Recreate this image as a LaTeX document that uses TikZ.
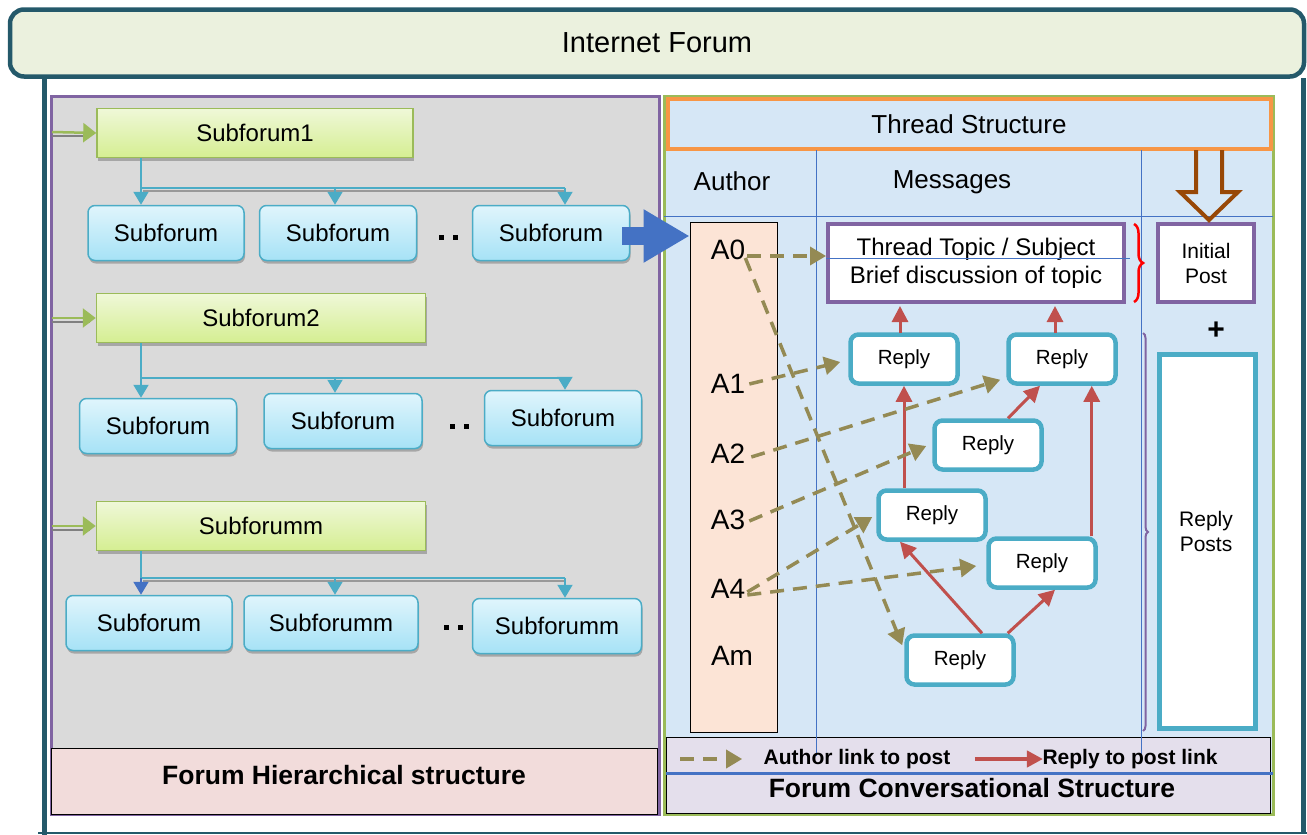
\documentclass[tikz,border=0pt]{standalone}
\usepackage{fontspec}
\setmainfont{Liberation Sans}
\usetikzlibrary{arrows.meta,calc,shadows,decorations.pathreplacing}

\definecolor{frameteal}{HTML}{24596A}
\definecolor{bannerfill}{HTML}{EBF1DE}
\definecolor{panelpurple}{HTML}{8064A2}
\definecolor{leftbg}{HTML}{DADADA}
\definecolor{pinkfill}{HTML}{F2DCDB}
\definecolor{catgreen}{HTML}{9BBB59}
\definecolor{cattop}{HTML}{EFF8D8}
\definecolor{catbot}{HTML}{D5EE92}
\definecolor{subteal}{HTML}{4BACC6}
\definecolor{subtop}{HTML}{E0F5FC}
\definecolor{subbot}{HTML}{A6E2F6}
\definecolor{bigblue}{HTML}{4472C4}
\definecolor{rightbg}{HTML}{D6E7F6}
\definecolor{threadorange}{HTML}{F79646}
\definecolor{peach}{HTML}{FCE4D6}
\definecolor{arrowbrown}{HTML}{984807}
\definecolor{linkred}{HTML}{C0504D}
\definecolor{linkolive}{HTML}{948A54}
\definecolor{lavender}{HTML}{E4DFEC}

\tikzset{
  catbox/.style={draw=catgreen, line width=1.5pt, top color=cattop, bottom color=catbot,
    minimum height=49pt, font=\fontsize{24}{28}\selectfont,
    drop shadow={shadow xshift=1pt, shadow yshift=-3pt, fill=gray!70, opacity=1}},
  subbox/.style={draw=subteal, line width=1.5pt, rounded corners=7pt, top color=subtop,
    bottom color=subbot, minimum height=55pt, font=\fontsize{24}{28}\selectfont,
    drop shadow={shadow xshift=1pt, shadow yshift=-3pt, fill=gray!70, opacity=1}},
  feedarrow/.style={catgreen, line width=2.5pt, -{Triangle[length=13pt,width=19pt]}},
  tree/.style={subteal, line width=2pt},
  treearrow/.style={subteal, line width=2pt, -{Triangle[length=13pt,width=15pt]}},
  gridline/.style={bigblue, line width=0.9pt},
  lbl/.style={inner sep=0pt, font=\fontsize{26}{30}\selectfont},
  alabel/.style={inner sep=0pt, font=\fontsize{28}{30}\selectfont},
  postbox/.style={draw=panelpurple, line width=4pt, fill=white, align=center},
  replybox/.style={draw=subteal, line width=4.5pt, rounded corners=8pt, fill=white,
    minimum width=107pt, minimum height=49pt, font=\fontsize{20.5}{24}\selectfont},
  replylink/.style={linkred, line width=3pt, -{Triangle[length=16pt,width=16pt]}},
  authlink/.style={linkolive, line width=3.5pt, dash pattern=on 14pt off 9pt,
    -{Triangle[length=16pt,width=18pt]}},
  boldcap/.style={font=\bfseries\fontsize{26.5}{30}\selectfont},
  legtext/.style={font=\bfseries\fontsize{21}{24}\selectfont},
}

\begin{document}
\begin{tikzpicture}[x=1pt,y=-1pt]
\useasboundingbox (0,0) rectangle (1307,835);

% outer frame
\node[draw=frameteal, line width=4.5pt, fill=bannerfill, rounded corners=14pt,
  minimum width=1294pt, minimum height=67pt, font=\fontsize{29}{32}\selectfont] (forum) at (657,43) {Internet Forum};
\draw[frameteal, line width=5pt] (44,78) -- (44,835);
\draw[frameteal, line width=5pt] (1303,78) -- (1303,833);
\draw[frameteal, line width=2pt] (38,833) -- (1307,833);

% hierarchical side
\draw[panelpurple, line width=3pt, fill=leftbg] (51,96) rectangle (659,814);
\draw[black, line width=1pt, fill=pinkfill] (51,748) rectangle (657,814);
\node[boldcap] (hier) at (344,775) {Forum Hierarchical structure};

\node[catbox, minimum width=316pt] (sf1) at (255,133) {Subforum1};
\node[catbox, minimum width=329pt] (sf2) at (261,318) {Subforum2};
\node[catbox, minimum width=329pt] (sfm) at (261,526) {Subforumm};

\node[subbox, minimum width=156pt] (s11) at (166,233) {Subforum};
\node[subbox, minimum width=157pt] (s12) at (338,233) {Subforum};
\node[subbox, minimum width=157pt] (s13) at (551,233) {Subforum};
\node[subbox, minimum width=157pt] (s21) at (158,426) {Subforum};
\node[subbox, minimum width=158pt] (s22) at (343,421) {Subforum};
\node[subbox, minimum width=157pt] (s23) at (563,418) {Subforum};
\node[subbox, minimum width=166pt] (s31) at (149,623) {Subforum};
\node[subbox, minimum width=174pt] (s32) at (331,623) {Subforumm};
\node[subbox, minimum width=169pt] (s33) at (557,626) {Subforumm};

\node (dots1) at (448,237) {\rule{5pt}{5pt}\hspace{9pt}\rule{5pt}{5pt}};
\node (dots2) at (459,426) {\rule{5pt}{5pt}\hspace{9pt}\rule{5pt}{5pt}};
\node (dots3) at (453,627) {\rule{5pt}{5pt}\hspace{9pt}\rule{5pt}{5pt}};

\draw[gray, line width=2pt] (52,136) -- (90,136);
\draw[feedarrow] (52,132) -- (sf1.west);
\draw[gray, line width=2pt] (52,322) -- (90,322);
\draw[feedarrow] (52,318) -- (sf2.west);
\draw[gray, line width=2pt] (52,530) -- (90,530);
\draw[feedarrow] (52,526) -- (sfm.west);

\coordinate (t1) at (141,188);
\coordinate (t2) at (141,378);
\coordinate (t3) at (141,578);
\draw[gray!80, line width=1.5pt] ($(t1)+(2,3)$) -- ($(t1)+(424,3)$);
\draw[tree] (t1 |- sf1.south) -- (t1) -- ($(t1)+(424,0)$);
\draw[treearrow] (t1) -- (t1 |- s11.north);
\draw[treearrow] ($(t1)+(194,0)$) -- ($(t1 |- s12.north)+(194,0)$);
\draw[treearrow] ($(t1)+(424,0)$) -- ($(t1 |- s13.north)+(424,0)$);
\draw[tree] (t2 |- sf2.south) -- (t2) -- ($(t2)+(424,0)$);
\draw[treearrow] (t2) -- (t2 |- s21.north);
\draw[treearrow] ($(t2)+(194,0)$) -- ($(t2 |- s22.north)+(194,0)$);
\draw[treearrow] ($(t2)+(424,0)$) -- ($(t2 |- s23.north)+(424,0)$);
\draw[gray!80, line width=1.5pt] ($(t3)+(2,3)$) -- ($(t3)+(424,3)$);
\draw[tree] (t3 |- sfm.south) -- (t3) -- ($(t3)+(424,0)$);
\draw[treearrow, bigblue] (t3) -- (t3 |- s31.north);
\draw[treearrow] ($(t3)+(194,0)$) -- ($(t3 |- s32.north)+(194,0)$);
\draw[treearrow] ($(t3)+(424,0)$) -- ($(t3 |- s33.north)+(424,0)$);

% conversational side
\draw[catgreen, line width=3pt, fill=rightbg] (664,96) rectangle (1273,814);
\node[draw=threadorange, line width=4pt, minimum width=603pt, minimum height=50pt,
  font=\fontsize{26}{30}\selectfont] (thread) at (969,124) {Thread Structure};
\draw[gridline] (816,150) -- (816,756);
\draw[gridline] (1141,150) -- (1141,756);
\draw[gridline] (664,216) -- (1273,216);
\node[lbl] (author) at (732,181) {Author};
\node[lbl] (messages) at (952,182) {Messages};

\node[draw=black, line width=0.8pt, fill=peach, minimum width=87pt, minimum height=510pt] (authors) at (733.5,477) {};
\node[alabel] (a0) at (728,250) {A0};
\node[alabel] (a1) at (728,384) {A1};
\node[alabel] (a2) at (728,454) {A2};
\node[alabel] (a3) at (728,520) {A3};
\node[alabel] (a4) at (728,589) {A4};
\node[alabel] (am) at (732,656) {Am};

\draw[bigblue, line width=18pt, -{Triangle[length=46pt,width=50pt]}] ($(s13.east)+(-8,3)$) -- ($(authors.west |- s13.east)+(0,3)$);

\node[postbox, minimum width=296pt, minimum height=78pt, font=\fontsize{24}{28}\selectfont] (topic) at (976,263)
  {Thread Topic / Subject\\Brief discussion of topic};
\draw[gridline] ($(topic.west)+(0,-5)$) -- ($(topic.east)+(4,-5)$);
\draw[red, line width=2.5pt, decorate, decoration={brace, amplitude=9pt}] (1134,224) -- (1134,302);
\node[postbox, minimum width=96pt, minimum height=78pt, font=\fontsize{21}{25}\selectfont] (initial) at (1206,263) {Initial\\Post};
\draw[arrowbrown, line width=4pt, line join=miter] (1196,150) -- (1196,192) -- (1180,192) -- (1209,220)
  -- (1238,192) -- (1222,192) -- (1222,150);
\node[font=\bfseries\fontsize{30}{30}\selectfont] (plus) at (1216,331) {+};
\draw[panelpurple, line width=2pt, decorate, decoration={brace, amplitude=5pt}] (1143,333) -- (1143,731);
\node[draw=subteal, line width=5pt, fill=white, minimum width=96pt, minimum height=374pt] (replies) at (1207.5,541) {};
\node[align=center, font=\fontsize{21}{25}\selectfont] (replytxt) at (1206,531) {Reply\\Posts};

\node[replybox] (r1) at (904,359) {Reply};
\node[replybox] (r2) at (1062,359) {Reply};
\node[replybox] (r3) at (988,445) {Reply};
\node[replybox] (r4) at (932,515) {Reply};
\node[replybox] (r5) at (1042,563) {Reply};
\node[replybox] (r6) at (960,660) {Reply};

% reply links
\draw[replylink] (r1.south |- r4.north) -- (r1.south);
\draw[replylink] ($(topic.south west)+(74,29)$) -- ($(topic.south west)+(74,2)$);
\draw[replylink] ($(topic.south west)+(229,29)$) -- ($(topic.south west)+(229,2)$);
\draw[replylink] ($(r3.north)+(20,0)$) -- ($(r2.south)+(-22,0)$);
\coordinate (r5up) at ($(r5.north east)+(-6,0)$);
\draw[replylink] (r5up) -- (r5up |- r2.south);
\draw[replylink] ($(r6.north)+(22,0)$) -- ($(r4.south)+(-32,0)$);
\draw[replylink] ($(r6.north east)+(-8,0)$) -- ($(r5.south)+(13,0)$);

% author links
\draw[authlink] ($(a0.east)+(2,6)$) -- ($(a0.east -| topic.west)+(0,6)$);
\draw[authlink] ($(a0.east)+(0,8)$) -- ($(r6.north west)+(-2,12)$);
\draw[authlink] ($(a1.east)+(4,0)$) -- ($(r1.west)+(-8,3)$);
\draw[authlink] ($(a2.east)+(6,3)$) -- ($(r2.south west)+(-6,-6)$);
\draw[authlink] ($(a3.east)+(4,1)$) -- ($(r3.west)+(-6,1)$);
\draw[authlink] ($(a4.east)+(2,3)$) -- ($(r4.west)+(-4,2)$);
\draw[authlink] ($(a4.east)+(2,6)$) -- ($(r5.west)+(-10,3)$);

% legend
\draw[black, line width=1pt, fill=lavender] (666,737) rectangle (1270,813);
\draw[gridline] (816,737) -- (816,756);
\draw[gridline] (1141,737) -- (1141,756);
\draw[bigblue, line width=3pt] (666,773) -- (1273,773);
\node[legtext] (legauthor) at (857,759) {Author link to post};
\node[legtext] (legreply) at (1130,759) {Reply to post link};
\draw[authlink] ($(legauthor.west)+(-80,0)$) -- ($(legauthor.west)+(-18,0)$);
\draw[replylink, line width=4pt] ($(legreply.west)+(-64,0)$) -- ($(legreply.west)+(4,0)$);
\node[boldcap] (conv) at (972,788) {Forum Conversational Structure};
\end{tikzpicture}
\end{document}
